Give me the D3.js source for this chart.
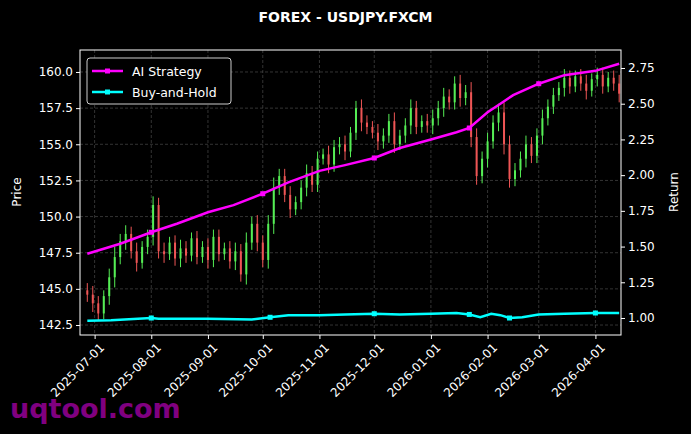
<!DOCTYPE html>
<html><head><meta charset="utf-8">
<script src="https://cdn.jsdelivr.net/npm/d3@7"></script>
<style>body{margin:0;background:#000}text{font-family:"DejaVu Sans",sans-serif}</style>
</head><body><div id="chart"></div>
<script>
// candles every 3 days from 2025-06-27: close prices, wick size
var startDate = "2025-06-27";
var closes = [144.6,144.0,143.3,144.5,145.8,147.2,148.3,148.8,147.6,146.8,147.9,148.6,150.8,147.6,147.4,148.2,147.1,147.8,147.3,148.5,
  147.2,147.9,147.0,148.6,147.4,147.8,146.9,147.6,146.0,148.2,149.5,148.2,147.0,149.5,152.0,152.8,151.5,150.5,151.0,152.0,
  153.0,152.2,154.0,154.3,153.6,154.8,155.0,154.5,155.8,157.5,156.5,156.2,155.8,155.2,155.6,156.6,155.0,155.6,156.3,157.5,
  156.2,156.6,156.3,156.8,157.5,158.3,157.9,159.2,158.2,158.6,155.5,152.8,154.0,155.2,156.5,157.2,155.0,152.6,153.2,154.0,
  155.0,154.2,155.6,156.8,157.6,158.4,158.9,159.6,159.0,159.7,159.2,158.7,159.5,159.8,159.0,159.6,159.2,158.5];
var wicks = [0.5,0.6,0.5,0.4,0.6,0.7,0.5,0.6,0.5,0.6,0.4,0.5,0.6,0.5,0.6,0.4,0.5,0.6,0.5,0.4,
  0.5,0.4,0.6,0.5,0.5,0.4,0.5,0.6,0.5,0.7,0.5,0.6,0.5,0.6,0.7,0.5,0.5,0.6,0.4,0.5,
  0.6,0.5,0.5,0.4,0.6,0.5,0.5,0.6,0.4,0.5,0.6,0.5,0.4,0.6,0.5,0.5,0.6,0.4,0.5,0.6,
  0.5,0.4,0.5,0.6,0.5,0.6,0.5,0.5,0.6,0.5,0.7,0.6,0.5,0.6,0.5,0.6,0.7,0.6,0.5,0.5,
  0.6,0.5,0.5,0.6,0.5,0.5,0.4,0.6,0.5,0.4,0.5,0.6,0.4,0.5,0.5,0.4,0.5,0.6];

var aiDates = ["2025-06-27","2025-07-15","2025-08-01","2025-08-15","2025-09-01","2025-09-15","2025-10-01","2025-10-15","2025-11-01","2025-11-15","2025-12-01","2025-12-15","2026-01-01","2026-01-15","2026-01-22","2026-02-01","2026-02-08","2026-02-15","2026-03-01","2026-03-15","2026-04-01","2026-04-14"];
var aiValues = [1.45,1.52,1.60,1.66,1.74,1.79,1.87,1.95,2.03,2.07,2.12,2.19,2.25,2.30,2.33,2.44,2.50,2.56,2.64,2.70,2.73,2.78];
var bhDates = ["2025-06-27","2025-07-10","2025-08-01","2025-08-05","2025-09-01","2025-09-25","2025-10-05","2025-10-15","2025-11-01","2025-11-15","2025-12-01","2025-12-15","2026-01-01","2026-01-15","2026-01-22","2026-01-28","2026-02-03","2026-02-08","2026-02-13","2026-02-20","2026-03-01","2026-03-15","2026-04-01","2026-04-14"];
var bhValues = [0.98,0.985,1.0,0.995,0.995,0.99,1.005,1.02,1.02,1.025,1.03,1.025,1.03,1.035,1.025,1.005,1.03,1.02,1.0,1.005,1.025,1.03,1.035,1.035];
var priceTicks = [142.5,145.0,147.5,150.0,152.5,155.0,157.5,160.0];
var returnTicks = [1.00,1.25,1.50,1.75,2.00,2.25,2.50,2.75];
var monthTicks = ["2025-07-01","2025-08-01","2025-09-01","2025-10-01","2025-11-01","2025-12-01","2026-01-01","2026-02-01","2026-03-01","2026-04-01"];

var svgWidth = 691, svgHeight = 434;
var margin = {top: 50, right: 70, bottom: 99, left: 80};
var width = svgWidth - margin.left - margin.right;
var height = svgHeight - margin.top - margin.bottom;
var parse = d3.timeParse("%Y-%m-%d");

var svg = d3.select("#chart").append("svg").attr("width", svgWidth).attr("height", svgHeight)
  .style("background", "#000");
var g = svg.append("g").attr("transform", `translate(${margin.left}, ${margin.top})`);

var x = d3.scaleTime().domain([parse("2025-06-23"), parse("2026-04-15")]).range([0, width]);
var yP = d3.scaleLinear().domain([141.81, 161.52]).range([height, 0]);
var yR = d3.scaleLinear().domain([0.881, 2.876]).range([height, 0]);

// grid
g.selectAll(".gx").data(monthTicks).enter().append("line")
  .attr("x1", d => x(parse(d))).attr("x2", d => x(parse(d))).attr("y1", 0).attr("y2", height)
  .attr("stroke", "#555").attr("stroke-width", 0.6).attr("stroke-dasharray", "3,2");
g.selectAll(".gy").data(priceTicks).enter().append("line")
  .attr("x1", 0).attr("x2", width).attr("y1", d => yP(d)).attr("y2", d => yP(d))
  .attr("stroke", "#555").attr("stroke-width", 0.6).attr("stroke-dasharray", "3,2");

// candles
var t0 = parse(startDate);
var candles = closes.map(function(c, i) {
  var o = i === 0 ? c + 0.3 : closes[i - 1];
  return {d: d3.timeDay.offset(t0, 3 * i), o: o, c: c, h: Math.max(o, c) + wicks[i], l: Math.min(o, c) - wicks[i]};
});
var up = "#55ee55", down = "#ee5555";
var cg = g.selectAll(".candle").data(candles).enter().append("g");
cg.append("line").attr("x1", d => x(d.d)).attr("x2", d => x(d.d))
  .attr("y1", d => yP(d.h)).attr("y2", d => yP(d.l))
  .attr("stroke", d => d.c >= d.o ? up : down).attr("stroke-width", 1);
cg.append("rect").attr("x", d => x(d.d) - 1).attr("width", 2)
  .attr("y", d => yP(Math.max(d.o, d.c))).attr("height", d => Math.max(1, Math.abs(yP(d.o) - yP(d.c))))
  .attr("fill", d => d.c >= d.o ? up : down);

// return lines
function drawLine(dates, vals, color) {
  var pts = dates.map((d, i) => [x(parse(d)), yR(vals[i])]);
  g.append("path").attr("d", d3.line()(pts)).attr("fill", "none")
    .attr("stroke", color).attr("stroke-width", 2.5);
  g.selectAll(null).data(pts.filter((p, i) => i % 4 === 2)).enter().append("rect")
    .attr("x", p => p[0] - 2.5).attr("y", p => p[1] - 2.5).attr("width", 5).attr("height", 5).attr("fill", color);
}
drawLine(aiDates, aiValues, "#ff00ff");
drawLine(bhDates, bhValues, "#00ffff");

// frame
g.append("rect").attr("width", width).attr("height", height).attr("fill", "none").attr("stroke", "#fff").attr("stroke-width", 1);

// axes
var left = g.append("g").call(d3.axisLeft(yP).tickValues(priceTicks).tickFormat(d3.format(".1f")).tickSize(4));
var right = g.append("g").attr("transform", `translate(${width},0)`)
  .call(d3.axisRight(yR).tickValues(returnTicks).tickFormat(d3.format(".2f")).tickSize(4));
var bottom = g.append("g").attr("transform", `translate(0,${height})`)
  .call(d3.axisBottom(x).tickValues(monthTicks.map(parse)).tickFormat(d3.timeFormat("%Y-%m-%d")).tickSize(4));
[left, right, bottom].forEach(function(a) {
  a.select(".domain").remove();
  a.selectAll("line").attr("stroke", "#fff");
  a.selectAll("text").attr("fill", "#fff").style("font-size", "12px");
});
bottom.selectAll("text").attr("text-anchor", "end").attr("dx", "-0.2em").attr("dy", "0.8em")
  .attr("transform", "rotate(-45)");

// labels
svg.append("text").attr("x", svgWidth / 2).attr("y", 22).attr("text-anchor", "middle")
  .attr("fill", "#fff").style("font-size", "14px").style("font-weight", "bold").text("FOREX - USDJPY.FXCM");
svg.append("text").attr("transform", "translate(21,192) rotate(-90)").attr("text-anchor", "middle")
  .attr("fill", "#fff").style("font-size", "12px").text("Price");
svg.append("text").attr("transform", "translate(678,192) rotate(-90)").attr("text-anchor", "middle")
  .attr("fill", "#fff").style("font-size", "12px").text("Return");

// legend
var lg = svg.append("g").attr("transform", "translate(87,58)");
lg.append("rect").attr("width", 144).attr("height", 46).attr("rx", 3).attr("fill", "#000").attr("stroke", "#ccc");
[["AI Strategy", "#ff00ff"], ["Buy-and-Hold", "#00ffff"]].forEach(function(e, i) {
  var yy = 13 + i * 21;
  lg.append("line").attr("x1", 5).attr("x2", 36).attr("y1", yy).attr("y2", yy).attr("stroke", e[1]).attr("stroke-width", 2.5);
  lg.append("rect").attr("x", 18).attr("y", yy - 2.5).attr("width", 5).attr("height", 5).attr("fill", e[1]);
  lg.append("text").attr("x", 45).attr("y", yy + 4.5).attr("fill", "#fff").style("font-size", "12.5px").text(e[0]);
});

// watermark
svg.append("text").attr("x", 10).attr("y", 418).attr("fill", "#800080").style("font-size", "27px")
  .style("font-weight", "bold").text("uqtool.com");
</script></body></html>
